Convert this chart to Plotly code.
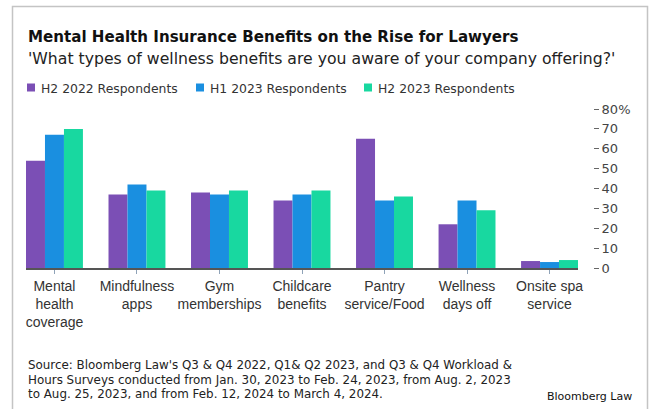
import plotly.graph_objects as go

# ---- data -------------------------------------------------------------
categories = [
    "Mental<br>health<br>coverage",
    "Mindfulness<br>apps",
    "Gym<br>memberships",
    "Childcare<br>benefits",
    "Pantry<br>service/Food",
    "Wellness<br>days off",
    "Onsite spa<br>service",
]
series_names = ["H2 2022 Respondents", "H1 2023 Respondents", "H2 2023 Respondents"]
h2_2022 = [54, 37, 38, 34, 65, 22, 3.5]
h1_2023 = [67, 42, 37, 37, 34, 34, 3]
h2_2023 = [70, 39, 39, 39, 36, 29, 4]
series_values = [h2_2022, h1_2023, h2_2023]
y_ticks = [0, 10, 20, 30, 40, 50, 60, 70, 80]
y_tick_labels = ["0", "10", "20", "30", "40", "50", "60", "70", "80%"]

title = "Mental Health Insurance Benefits on the Rise for Lawyers"
subtitle = "'What types of wellness benefits are you aware of your company offering?'"
source_lines = [
    "Source: Bloomberg Law's Q3 & Q4 2022, Q1& Q2 2023, and Q3 & Q4 Workload &",
    "Hours Surveys conducted from Jan. 30, 2023 to Feb. 24, 2023, from Aug. 2, 2023",
    "to Aug. 25, 2023, and from Feb. 12, 2024 to March 4, 2024.",
]
credit = "Bloomberg Law"

colors = ["#7b4fb5", "#1a8fe0", "#18d8a0"]

# ---- geometry (pixels) -----------------------------------------------
W, H = 649, 409
ML, MR, MT, MB = 26, 56, 109, 141
PW = W - ML - MR          # paper width
PH = H - MT - MB          # paper height
PLOT_RIGHT = 578


def px(x):
    return (x - ML) / PW


def py(y):
    return (H - MB - y) / PH


SANS = "Liberation Sans, Arial, sans-serif"
WIDE = "DejaVu Sans, Verdana, sans-serif"

fig = go.Figure()
for name, vals, col in zip(series_names, series_values, colors):
    fig.add_trace(go.Bar(x=categories, y=vals, name=name, marker_color=col,
                         marker_line_width=0, showlegend=False))

fig.update_layout(
    width=W, height=H,
    margin=dict(l=ML, r=MR, t=MT, b=MB, pad=0),
    paper_bgcolor="white", plot_bgcolor="white",
    barmode="group", bargap=0.31, bargroupgap=0,
    font=dict(family=SANS, color="#333333"),
)
fig.update_xaxes(
    domain=[0, (PLOT_RIGHT - ML) / PW],
    range=[-0.345, 6.345],
    showline=True, linecolor="#555555", linewidth=1.5,
    ticks="outside", ticklen=4, tickcolor="#8fa3b8", tickwidth=1,
    tickfont=dict(family=SANS, size=14, color="#333333"),
    showgrid=False, zeroline=False, fixedrange=True,
)
fig.update_yaxes(
    range=[0, 80], side="right", anchor="free", position=1,
    tickvals=y_ticks, ticktext=y_tick_labels,
    ticks="outside", ticklen=5, tickcolor="#666666", tickwidth=1,
    tickfont=dict(family=WIDE, size=13, color="#444444"),
    showgrid=False, zeroline=False, showline=False, fixedrange=True,
)

ann = []
ann.append(dict(text="<b>" + title + "</b>", x=px(26), y=py(37), xref="paper", yref="paper",
                xanchor="left", yanchor="middle", showarrow=False,
                font=dict(family=WIDE, size=15.1, color="#111111")))
ann.append(dict(text=subtitle, x=px(26), y=py(58), xref="paper", yref="paper",
                xanchor="left", yanchor="middle", showarrow=False,
                font=dict(family=WIDE, size=15.7, color="#222222")))

# legend built from the series names
legend_x = [27, 196, 364]
shapes = []
for lx, name, col in zip(legend_x, series_names, colors):
    shapes.append(dict(type="rect", xref="paper", yref="paper",
                       x0=px(lx), x1=px(lx + 8), y0=py(91.5), y1=py(83.5),
                       fillcolor=col, line_width=0))
    ann.append(dict(text=name, x=px(lx + 12), y=py(88), xref="paper", yref="paper",
                    xanchor="left", yanchor="middle", showarrow=False,
                    font=dict(family=WIDE, size=12.4, color="#333333")))

for i, line in enumerate(source_lines):
    ann.append(dict(text=line, x=px(26), y=py(365 + i * 14.5), xref="paper", yref="paper",
                    xanchor="left", yanchor="middle", showarrow=False,
                    font=dict(family=WIDE, size=11.9, color="#222222")))
ann.append(dict(text=credit, x=px(634), y=py(396), xref="paper", yref="paper",
                xanchor="right", yanchor="middle", showarrow=False,
                font=dict(family=WIDE, size=11, color="#111111")))

# outer frame
shapes.append(dict(type="rect", xref="paper", yref="paper",
                   x0=px(12.5), x1=px(647.5), y0=py(420), y1=py(6.5),
                   line=dict(color="#c4c4c4", width=1.5), fillcolor="rgba(0,0,0,0)",
                   layer="below"))

fig.update_layout(annotations=ann, shapes=shapes)
fig.write_html("out.html")
